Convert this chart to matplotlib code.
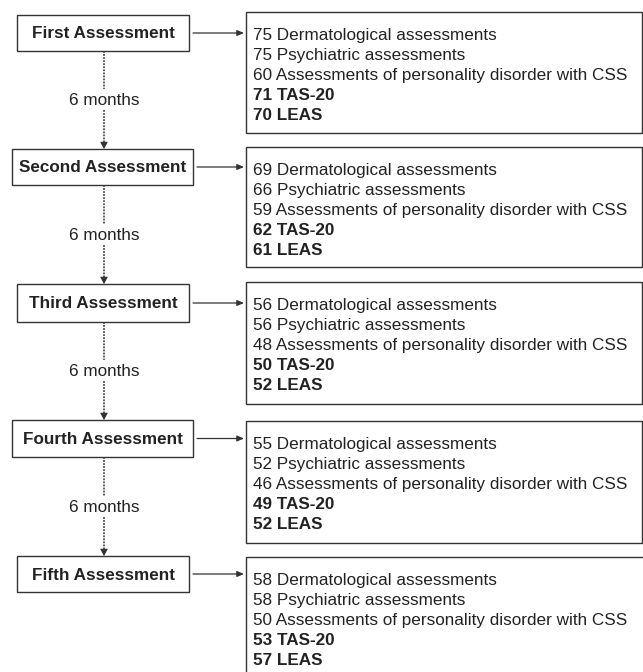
import matplotlib
matplotlib.use("Agg")
import matplotlib.pyplot as plt
from matplotlib.patches import Rectangle

plt.rcParams['font.family'] = ['Liberation Sans', 'DejaVu Sans']

stages = ["First Assessment", "Second Assessment", "Third Assessment",
          "Fourth Assessment", "Fifth Assessment"]
derm = [75, 69, 56, 55, 58]
psych = [75, 66, 56, 52, 58]
css = [60, 59, 48, 46, 50]
tas = [71, 62, 50, 49, 53]
leas = [70, 61, 52, 52, 57]
interval = "6 months"

# layout (pixel coordinates)
left_boxes = [(17, 15, 189, 51), (12, 149, 193, 185), (17, 284, 189, 322),
              (12, 420, 193, 457), (17, 556, 189, 592)]
right_boxes = [(246, 12, 642, 133), (246, 147, 642, 267), (246, 282, 642, 404),
               (246, 421, 642, 543), (246, 557, 650, 690)]

W, H = 643, 672
fig = plt.figure(figsize=(W / 100, H / 100), dpi=100)
ax = fig.add_axes([0, 0, 1, 1])
ax.set_xlim(0, W)
ax.set_ylim(H, 0)
ax.axis('off')

ec = '#333333'
tc = '#222222'
fs = 12.3
cx = 104

for i, name in enumerate(stages):
    x0, y0, x1, y1 = left_boxes[i]
    ax.add_patch(Rectangle((x0, y0), x1 - x0, y1 - y0, fill=False, ec=ec, lw=1.0))
    ym = (y0 + y1) / 2
    ax.text((x0 + x1) / 2, ym + 5.5, name, ha='center', va='baseline',
            fontsize=fs, fontweight='bold', color=tc)
    rx0, ry0, rx1, ry1 = right_boxes[i]
    ax.add_patch(Rectangle((rx0, ry0), rx1 - rx0, ry1 - ry0, fill=False, ec=ec, lw=1.0))
    # horizontal arrow
    ax.annotate('', xy=(rx0 - 2, ym), xytext=(x1 + 4, ym),
                arrowprops=dict(arrowstyle='-|>,head_length=0.4,head_width=0.17',
                                color=ec, lw=0.9, shrinkA=0, shrinkB=0))
    lines = [(f"{derm[i]} Dermatological assessments", 'normal'),
             (f"{psych[i]} Psychiatric assessments", 'normal'),
             (f"{css[i]} Assessments of personality disorder with CSS", 'normal'),
             (f"{tas[i]} TAS-20", 'bold'),
             (f"{leas[i]} LEAS", 'bold')]
    for k, (txt, wt) in enumerate(lines):
        ax.text(253, ry0 + 28 + 20 * k, txt, ha='left', va='baseline',
                fontsize=fs, fontweight=wt, color=tc)
    # dotted vertical connector
    if i < len(stages) - 1:
        nb = left_boxes[i + 1][1]
        mid = (y1 + nb) / 2
        ax.plot([cx, cx], [y1, mid - 11], color=ec, lw=1.1, ls=(0, (1.2, 0.8)))
        ax.plot([cx, cx], [mid + 10, nb - 5], color=ec, lw=1.1, ls=(0, (1.2, 0.8)))
        ax.annotate('', xy=(cx, nb), xytext=(cx, nb - 6),
                    arrowprops=dict(arrowstyle='-|>,head_length=0.4,head_width=0.22',
                                    color=ec, lw=0.8, shrinkA=0, shrinkB=0))
        ax.text(cx, mid + 5, interval, ha='center', va='baseline', fontsize=fs, color=tc)

fig.savefig('out.png', dpi=100)
